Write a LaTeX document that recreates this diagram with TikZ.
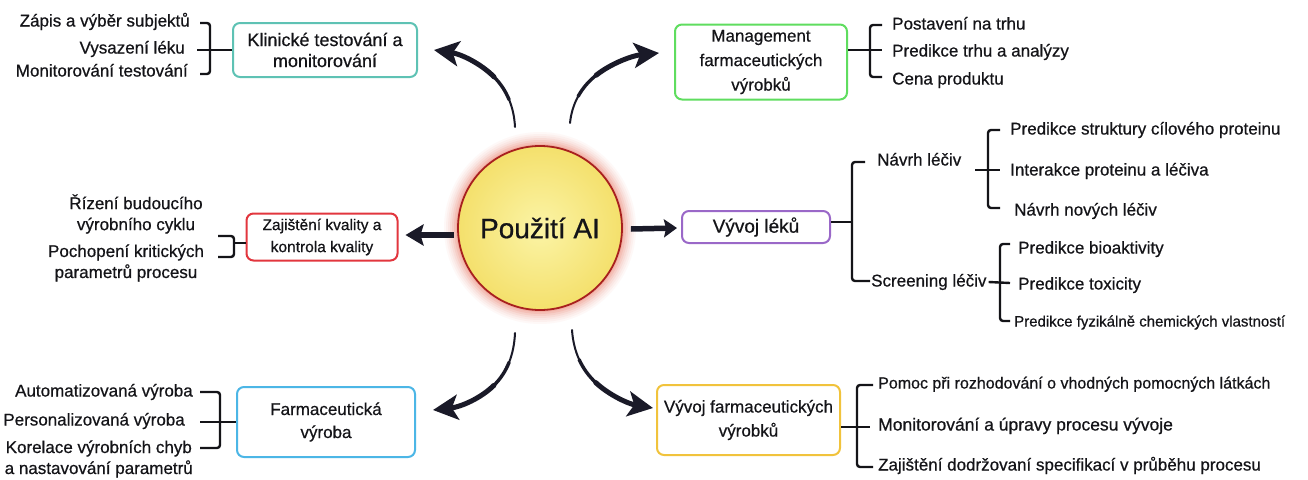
\documentclass[tikz,border=0pt]{standalone}
\usepackage{fontspec}
\setmainfont{Liberation Sans}[FakeBold=0.6]
\usetikzlibrary{arrows.meta,calc}
\definecolor{cTeal}{HTML}{5EC2B4}
\definecolor{cGreen}{HTML}{5FDD5F}
\definecolor{cPurple}{HTML}{9A68C8}
\definecolor{cRed}{HTML}{E2363E}
\definecolor{cBlue}{HTML}{4CB6E6}
\definecolor{cGold}{HTML}{F1C33C}
\definecolor{cYin}{HTML}{FBF4A6}
\definecolor{cYout}{HTML}{F4E06C}
\definecolor{cRim}{HTML}{A8201E}
\definecolor{cGlow}{HTML}{E8604A}
\definecolor{ink}{HTML}{141418}
\definecolor{arr}{HTML}{1A1A28}
% tapered curved arrow: Bezier split by de Casteljau into three parts of growing width
\newcommand\taperArrow[4]{%
  \coordinate (P0) at (#1); \coordinate (P1) at #2; \coordinate (P2) at #3; \coordinate (P3) at (#4);
  \coordinate (QA) at ($(P0)!0.5!(P1)$); \coordinate (QB) at ($(P1)!0.5!(P2)$); \coordinate (QC) at ($(P2)!0.5!(P3)$);
  \coordinate (QD) at ($(QA)!0.5!(QB)$); \coordinate (QE) at ($(QB)!0.5!(QC)$); \coordinate (QF) at ($(QD)!0.5!(QE)$);
  \coordinate (RA) at ($(P0)!0.5!(QA)$); \coordinate (RB) at ($(QA)!0.5!(QD)$); \coordinate (RC) at ($(QD)!0.5!(QF)$);
  \coordinate (RD) at ($(RA)!0.5!(RB)$); \coordinate (RE) at ($(RB)!0.5!(RC)$); \coordinate (RF) at ($(RD)!0.5!(RE)$);
  \draw[arr, line width=2pt, line cap=round] (P0) .. controls (RA) and (RD) .. (RF);
  \draw[arr, line width=3.4pt, line cap=round] (RF) .. controls (RE) and (RC) .. (QF);
  \draw[arr, line width=5pt, line cap=round, -{Stealth[length=25pt,width=25pt,inset=6pt]}] (QF) .. controls (QE) and (QC) .. (P3);
}
\tikzset{
  box/.style={draw, rounded corners=7pt, line width=2pt, align=center, inner sep=2pt, text=ink},
  item/.style={inner sep=0pt, text=ink, font=\fontsize{17}{22}\selectfont, text height=12.5pt, text depth=3.5pt},
  mitem/.style={inner sep=0pt, text=ink, align=center, font=\fontsize{17}{21}\selectfont},
  brk/.style={draw=ink, line width=2.4pt, rounded corners=3pt},
  harrow/.style={draw=arr, line width=5.5pt},
}
\begin{document}
\begin{tikzpicture}[x=1pt,y=-1pt]
\useasboundingbox (0,0) rectangle (1308,479);
\fill[white] (0,0) rectangle (1308,479);

% central circle with glow
\foreach \r/\o in {96/0.04,94/0.05,92/0.06,90/0.08,88/0.10,86/0.13,84/0.16}{
  \fill[cGlow, opacity=\o] (540,228) circle (\r pt);}
\node[circle, minimum size=164pt, draw=cRim, line width=1.8pt, inner color=cYin, outer color=cYout,
      font=\fontsize{28}{32}\selectfont, text=ink] (ai) at (540,228) {Použití AI};

% boxes
\node[box, draw=cTeal, minimum width=184pt, minimum height=54pt, font=\fontsize{18}{21}\selectfont] (klin) at (325,50) {Klinické testování a\\monitorování};
\node[box, draw=cGreen, minimum width=172pt, minimum height=75pt, font=\fontsize{17}{24.5}\selectfont] (man) at (761,62) {Management\\farmaceutických\\výrobků};
\node[box, draw=cPurple, minimum width=148pt, minimum height=32pt, font=\fontsize{19}{22}\selectfont] (vl) at (756,227) {Vývoj léků};
\node[box, draw=cRed, minimum width=151pt, minimum height=47pt, font=\fontsize{15.5}{22}\selectfont] (zaj) at (322,237) {Zajištění kvality a\\kontrola kvality};
\node[box, draw=cBlue, minimum width=178pt, minimum height=70pt, font=\fontsize{17}{23}\selectfont] (fv) at (326,422) {Farmaceutická\\výroba};
\node[box, draw=cGold, minimum width=183pt, minimum height=70pt, font=\fontsize{17}{24}\selectfont] (vfv) at (748.5,420) {Vývoj farmaceutických\\výrobků};

% arrows from centre
\coordinate (a1s) at ($(ai.center)+(-25,-101)$);
\coordinate (a1e) at ($(klin.east)+(16,0)$);
\taperArrow{a1s}{(513,88)}{(488,58)}{a1e}
\coordinate (a2s) at ($(ai.center)+(30,-105)$);
\coordinate (a2e) at ($(man.west)+(-15,-9)$);
\taperArrow{a2s}{(574,84)}{(606,58)}{a2e}
\coordinate (a3s) at ($(ai.center)+(-25,105)$);
\coordinate (a3e) at ($(fv.east)+(17,-12)$);
\taperArrow{a3s}{(513,376)}{(488,404)}{a3e}
\coordinate (a4s) at ($(ai.center)+(32,102)$);
\coordinate (a4e) at ($(vfv.west)+(-3,-12)$);
\taperArrow{a4s}{(575,374)}{(605,400)}{a4e}
\draw[harrow, -{Stealth[length=18pt,width=21pt,inset=3pt]}] ($(ai.west |- zaj.east)+(-3,-2)$) -- ($(zaj.east)+(7,-2)$);
\draw[harrow, -{Stealth[length=13pt,width=18pt,inset=2pt]}] ($(ai.east)+(8,1)$) -- ($(vl.west)+(-4,1)$);

% Klinicke items
\node[item, anchor=east] (k1) at (190,22) {Zápis a výběr subjektů};
\node[item, anchor=east] (k2) at (185,49) {Vysazení léku};
\node[item, anchor=east] (k3) at (188,72) {Monitorování testování};
\draw[brk] (200,23) -| (210,50) |- (200,74);
\coordinate (kb) at (197,50);
\draw[brk] (kb) -- (klin.west |- kb);

% Management items
\node[item, anchor=west] (m1) at (892,25) {Postavení na trhu};
\node[item, anchor=west] (m2) at (892,52) {Predikce trhu a analýzy};
\node[item, anchor=west] (m3) at (892,80) {Cena produktu};
\draw[brk] (882,25) -| (870,50) |- (882,77);
\coordinate (mb) at (882,50);
\draw[brk] (man.east |- mb) -- (mb);

% Vyvoj leku items
\coordinate (vb) at (852,222);
\draw[brk] (vl.east |- vb) -- (vb);
\draw[brk] (865,162) -| (852,222) |- (870,281);
\node[item, anchor=west] (n1) at (877,161) {Návrh léčiv};
\node[item, anchor=west] (n2) at (871,282) {Screening léčiv};
\coordinate (nb) at (975,170);
\draw[brk] (nb) -- (1000,170);
\draw[brk] (1000,130) -| (988,170) |- (1000,208);
\node[item, anchor=west] (p1) at (1010,130) {Predikce struktury cílového proteinu};
\node[item, anchor=west] (p2) at (1010,171) {Interakce proteinu a léčiva};
\node[item, anchor=west] (p3) at (1014,211) {Návrh nových léčiv};
\draw[brk] ($(n2.east)+(2,0)$) -- (1010,283);
\draw[brk] (1010,244) -| (1000,283) |- (1010,321);
\node[item, anchor=west] (s1) at (1018,249) {Predikce bioaktivity};
\node[item, anchor=west] (s2) at (1018,285) {Predikce toxicity};
\node[item, anchor=west, font=\fontsize{15}{20}\selectfont] (s3) at (1014,322) {Predikce fyzikálně chemických vlastností};

% Zajisteni items
\node[mitem] (z1) at (136,214) {Řízení budoucího\\výrobního cyklu};
\node[mitem] (z2) at (126,263) {Pochopení kritických\\parametrů procesu};
\draw[brk] (218,236) -| (234,243) |- (218,257);
\coordinate (zb) at (234,243);
\draw[brk] (zb) -- (zaj.west |- zb);

% Farmaceuticka vyroba items
\node[item, anchor=east] (f1) at (193,392) {Automatizovaná výroba};
\node[item, anchor=east] (f2) at (185,421) {Personalizovaná výroba};
\node[mitem, anchor=east] (f3) at (193,459) {Korelace výrobních chyb\\a nastavování parametrů};
\draw[brk] (200,392) -| (220,422) |- (200,448);
\coordinate (fb) at (200,422);
\draw[brk] (fb) -- (fv.west);

% Vyvoj farmaceutickych vyrobku items
\node[item, anchor=west, font=\fontsize{16}{20}\selectfont] (v1) at (878,384) {Pomoc při rozhodování o vhodných pomocných látkách};
\node[item, anchor=west, font=\fontsize{17.5}{20}\selectfont] (v2) at (878,426) {Monitorování a úpravy procesu vývoje};
\node[item, anchor=west, font=\fontsize{17}{20}\selectfont] (v3) at (878,466) {Zajištění dodržovaní specifikací v průběhu procesu};
\draw[brk] (873,385) -| (857,427) |- (873,467);
\coordinate (vfb) at (870,427);
\draw[brk] (vfv.east |- vfb) -- (vfb);
\end{tikzpicture}
\end{document}
